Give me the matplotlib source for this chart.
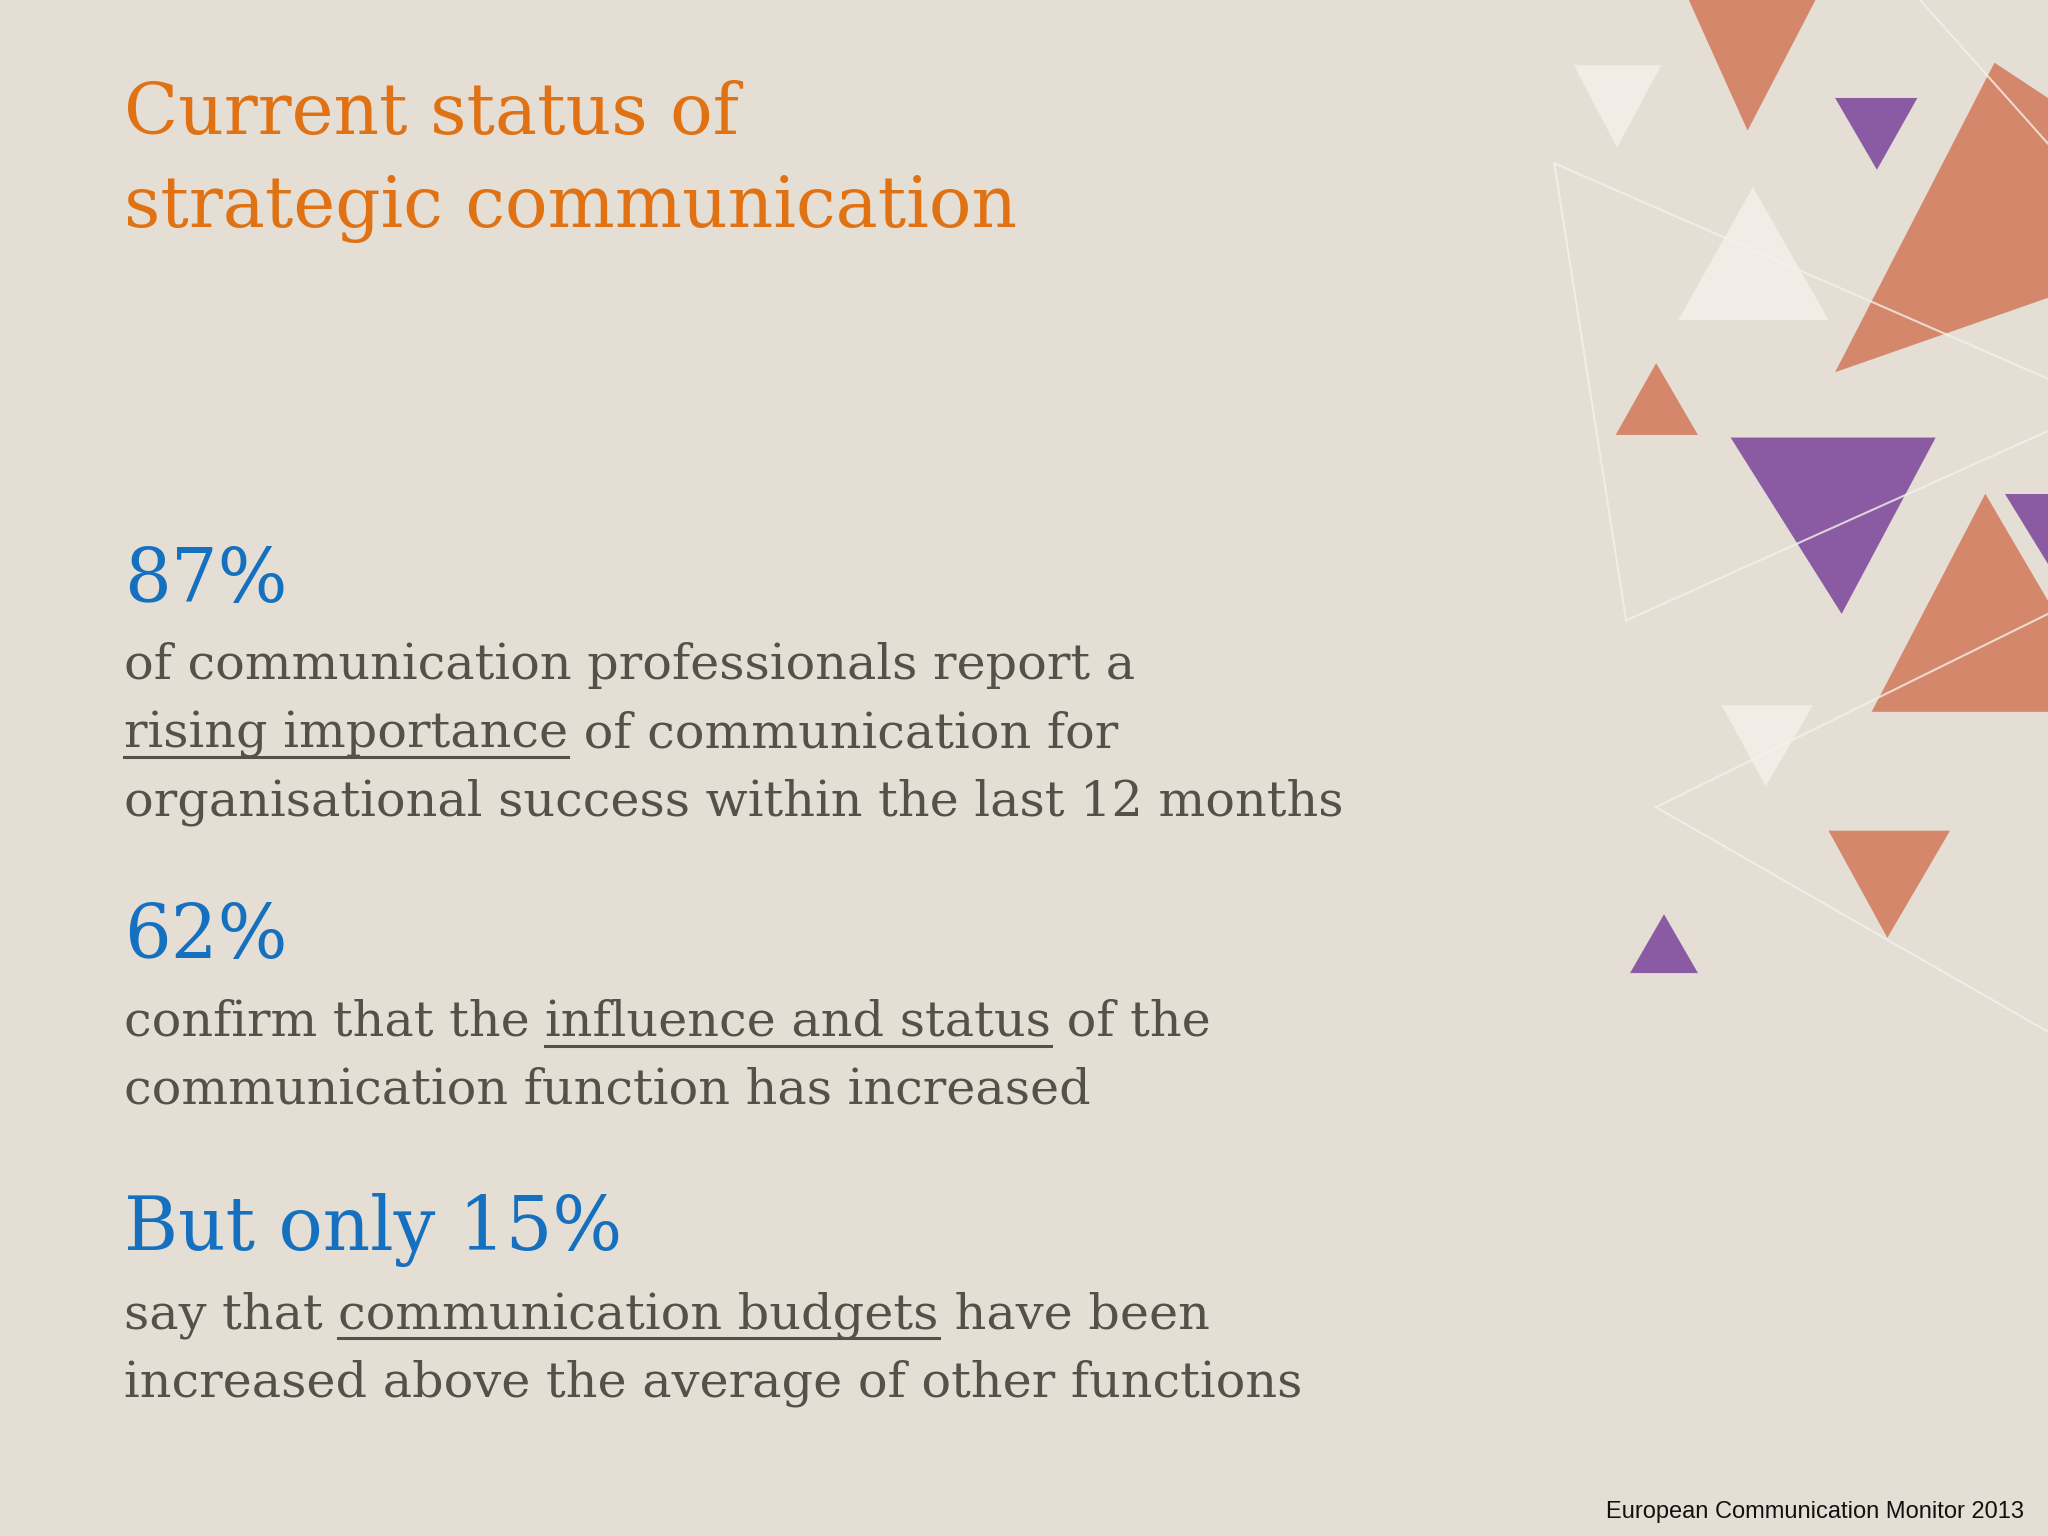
import matplotlib
matplotlib.use("Agg")
import matplotlib.pyplot as plt
from matplotlib.patches import Polygon

W, H = 2048, 1536
S = 2048 / 1568
bg = "#E4DED4"
grey = "#57504A"
blue = "#1570C0"
orange = "#E07214"
FONT = "DejaVu Serif"

title_lines = ["Current status of", "strategic communication"]
stats = ["87%", "62%", "But only 15%"]
blocks = [
    [[("of communication professionals report a", False)],
     [("rising importance", True), (" of communication for", False)],
     [("organisational success within the last 12 months", False)]],
    [[("confirm that the ", False), ("influence and status", True), (" of the", False)],
     [("communication function has increased", False)]],
    [[("say that ", False), ("communication budgets", True), (" have been", False)],
     [("increased above the average of other functions", False)]],
]
stat_y = [445, 718, 942]
footer = "European Communication Monitor 2013"

tri_colors = {"o": "#D4876A", "p": "#8A5BA3", "w": "#F1EDE6"}
triangles = [
    ("w", [(1205, 50), (1272, 50), (1238, 113)]),
    ("o", [(1293, 0), (1390, 0), (1338, 100)]),
    ("p", [(1405, 75), (1468, 75), (1437, 130)]),
    ("o", [(1405, 285), (1527, 48), (1568, 75), (1568, 228)]),
    ("w", [(1285, 245), (1400, 245), (1342, 143)]),
    ("o", [(1237, 333), (1300, 333), (1268, 278)]),
    ("p", [(1325, 335), (1482, 335), (1410, 470)]),
    ("p", [(1535, 378), (1568, 378), (1568, 432)]),
    ("o", [(1433, 545), (1568, 545), (1568, 460), (1520, 378)]),
    ("w", [(1318, 540), (1388, 540), (1352, 602)]),
    ("o", [(1400, 636), (1493, 636), (1445, 718)]),
    ("p", [(1248, 745), (1300, 745), (1274, 700)]),
]
lines = [
    [(1190, 125), (1568, 290)], [(1190, 125), (1245, 475)], [(1245, 475), (1568, 330)],
    [(1268, 618), (1568, 470)], [(1268, 618), (1568, 790)], [(1470, 0), (1568, 110)],
]

fig = plt.figure(figsize=(20.48, 15.36), dpi=100, facecolor=bg)
ax = fig.add_axes([0, 0, 1, 1])
ax.set_xlim(0, W); ax.set_ylim(H, 0); ax.axis("off")
ax.set_facecolor(bg)

for c, pts in triangles:
    ax.add_patch(Polygon([(x * S, y * S) for x, y in pts], closed=True, color=tri_colors[c], lw=0))
for seg in lines:
    ax.plot([p[0] * S for p in seg], [p[1] * S for p in seg], color="#F4F1EC", lw=1.5, alpha=0.8)

x0 = 95 * S
for i, t in enumerate(title_lines):
    ax.text(x0, (88 + i * 72) * S, t, fontsize=51, color=orange, family=FONT, va="center")

fig.canvas.draw()
r = fig.canvas.get_renderer()
for sy, st, blk in zip(stat_y, stats, blocks):
    ax.text(x0, sy * S, st, fontsize=53, color=blue, family=FONT, va="center")
    for li, line in enumerate(blk):
        y = (sy + 75 + li * 52) * S
        x = x0
        for txt, ul in line:
            t = ax.text(x, y, txt, fontsize=35.5, color=grey, family=FONT, va="baseline")
            bb = t.get_window_extent(r)
            w = bb.width
            if ul:
                ax.plot([x, x + w], [y + 10, y + 10], color=grey, lw=2.2)
            x += w

ax.text(1550 * S, 1158 * S, footer, fontsize=17, color="#111111", family="Liberation Sans",
        ha="right", va="center")
fig.savefig("out.png", dpi=100, facecolor=bg)
